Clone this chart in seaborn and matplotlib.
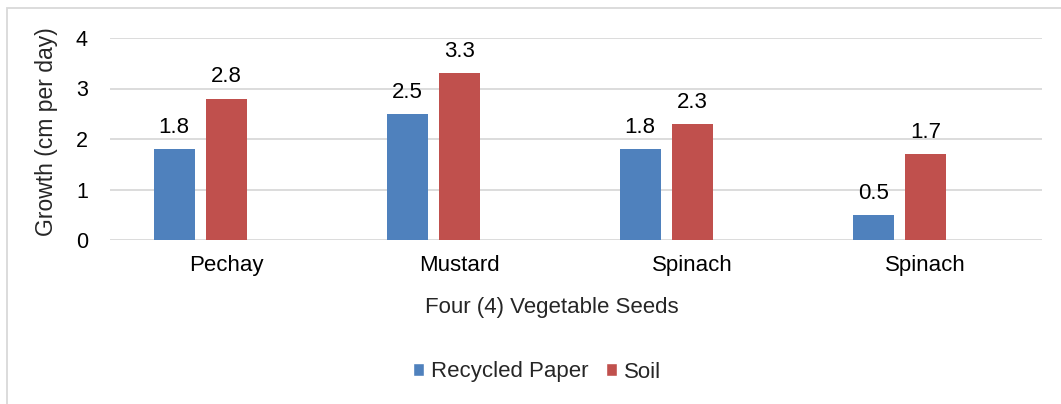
import seaborn as sns
import matplotlib.pyplot as plt
import pandas as pd
from matplotlib.patches import Patch, Rectangle

# data
seeds = ["Pechay", "Mustard", "Spinach", "Spinach"]
recycled_paper = [1.8, 2.5, 1.8, 0.5]
soil = [2.8, 3.3, 2.3, 1.7]
series = ["Recycled Paper", "Soil"]
colors = ["#4F81BD", "#C0504D"]
y_ticks = [0, 1, 2, 3, 4]


def main():
    sns.set_style("white")
    plt.rcParams['font.family'] = ['Liberation Sans', 'DejaVu Sans']

    # two seeds share the name "Spinach", so plot on slot numbers
    df = pd.DataFrame({
        "slot": list(range(len(seeds))) * 2,
        "growth": recycled_paper + soil,
        "medium": [series[0]] * len(seeds) + [series[1]] * len(seeds),
    })

    fig = plt.figure(figsize=(10.61, 4.04), dpi=100)
    ax = fig.add_axes([110 / 1061, 1 - 240 / 404, 932 / 1061, 202 / 404])

    # third empty hue level keeps the Excel-style offset of the bar pairs
    sns.barplot(data=df, x="slot", y="growth", hue="medium",
                hue_order=series + ["_empty"], palette=colors + ["white"],
                width=0.675, gap=0.22, errorbar=None, legend=False,
                saturation=1, edgecolor="none", ax=ax)

    for cont in ax.containers:
        if len(cont) and cont.get_label() != "_empty":
            ax.bar_label(cont, fmt="%.1f", padding=8, fontsize=16, color="black")

    ax.set_xlim(-0.5, len(seeds) - 0.5)
    ax.set_ylim(0, 4)
    ax.set_yticks(y_ticks)
    ax.set_xticks(range(len(seeds)))
    ax.set_xticklabels(seeds)
    ax.grid(axis="y", color="#D9D9D9", linewidth=1.3)
    ax.set_axisbelow(True)
    sns.despine(ax=ax, left=True, bottom=True)
    ax.tick_params(axis="y", length=0, pad=16, labelsize=15.5, colors="black")
    ax.tick_params(axis="x", length=0, pad=11, labelsize=16, colors="black")

    ax.set_xlabel("Four (4) Vegetable Seeds", fontsize=16, va="center")
    ax.xaxis.set_label_coords((552 - 110) / 932, (240 - 307) / 202)
    ax.set_ylabel("Growth (cm per day)", fontsize=16.5, va="center")
    ax.yaxis.set_label_coords((47 - 110) / 932, (240 - 132) / 202)

    handles = [Patch(facecolor=c, label=s) for c, s in zip(colors, series)]
    fig.legend(handles=handles, loc="center", bbox_to_anchor=(537 / 1061, 1 - 372 / 404),
               ncol=2, frameon=False, fontsize=16, handlelength=0.5, handleheight=0.5,
               handletextpad=0.3, columnspacing=0.8)

    # chart frame (only its top and left edges fall inside the picture)
    fig.patches.append(Rectangle((7 / 1061, -0.5), 2, 1.5 - 8 / 404, transform=fig.transFigure,
                                 fill=False, edgecolor="#D9D9D9", linewidth=1.3))

    fig.savefig("out.png", dpi=100)


if __name__ == "__main__":
    main()
